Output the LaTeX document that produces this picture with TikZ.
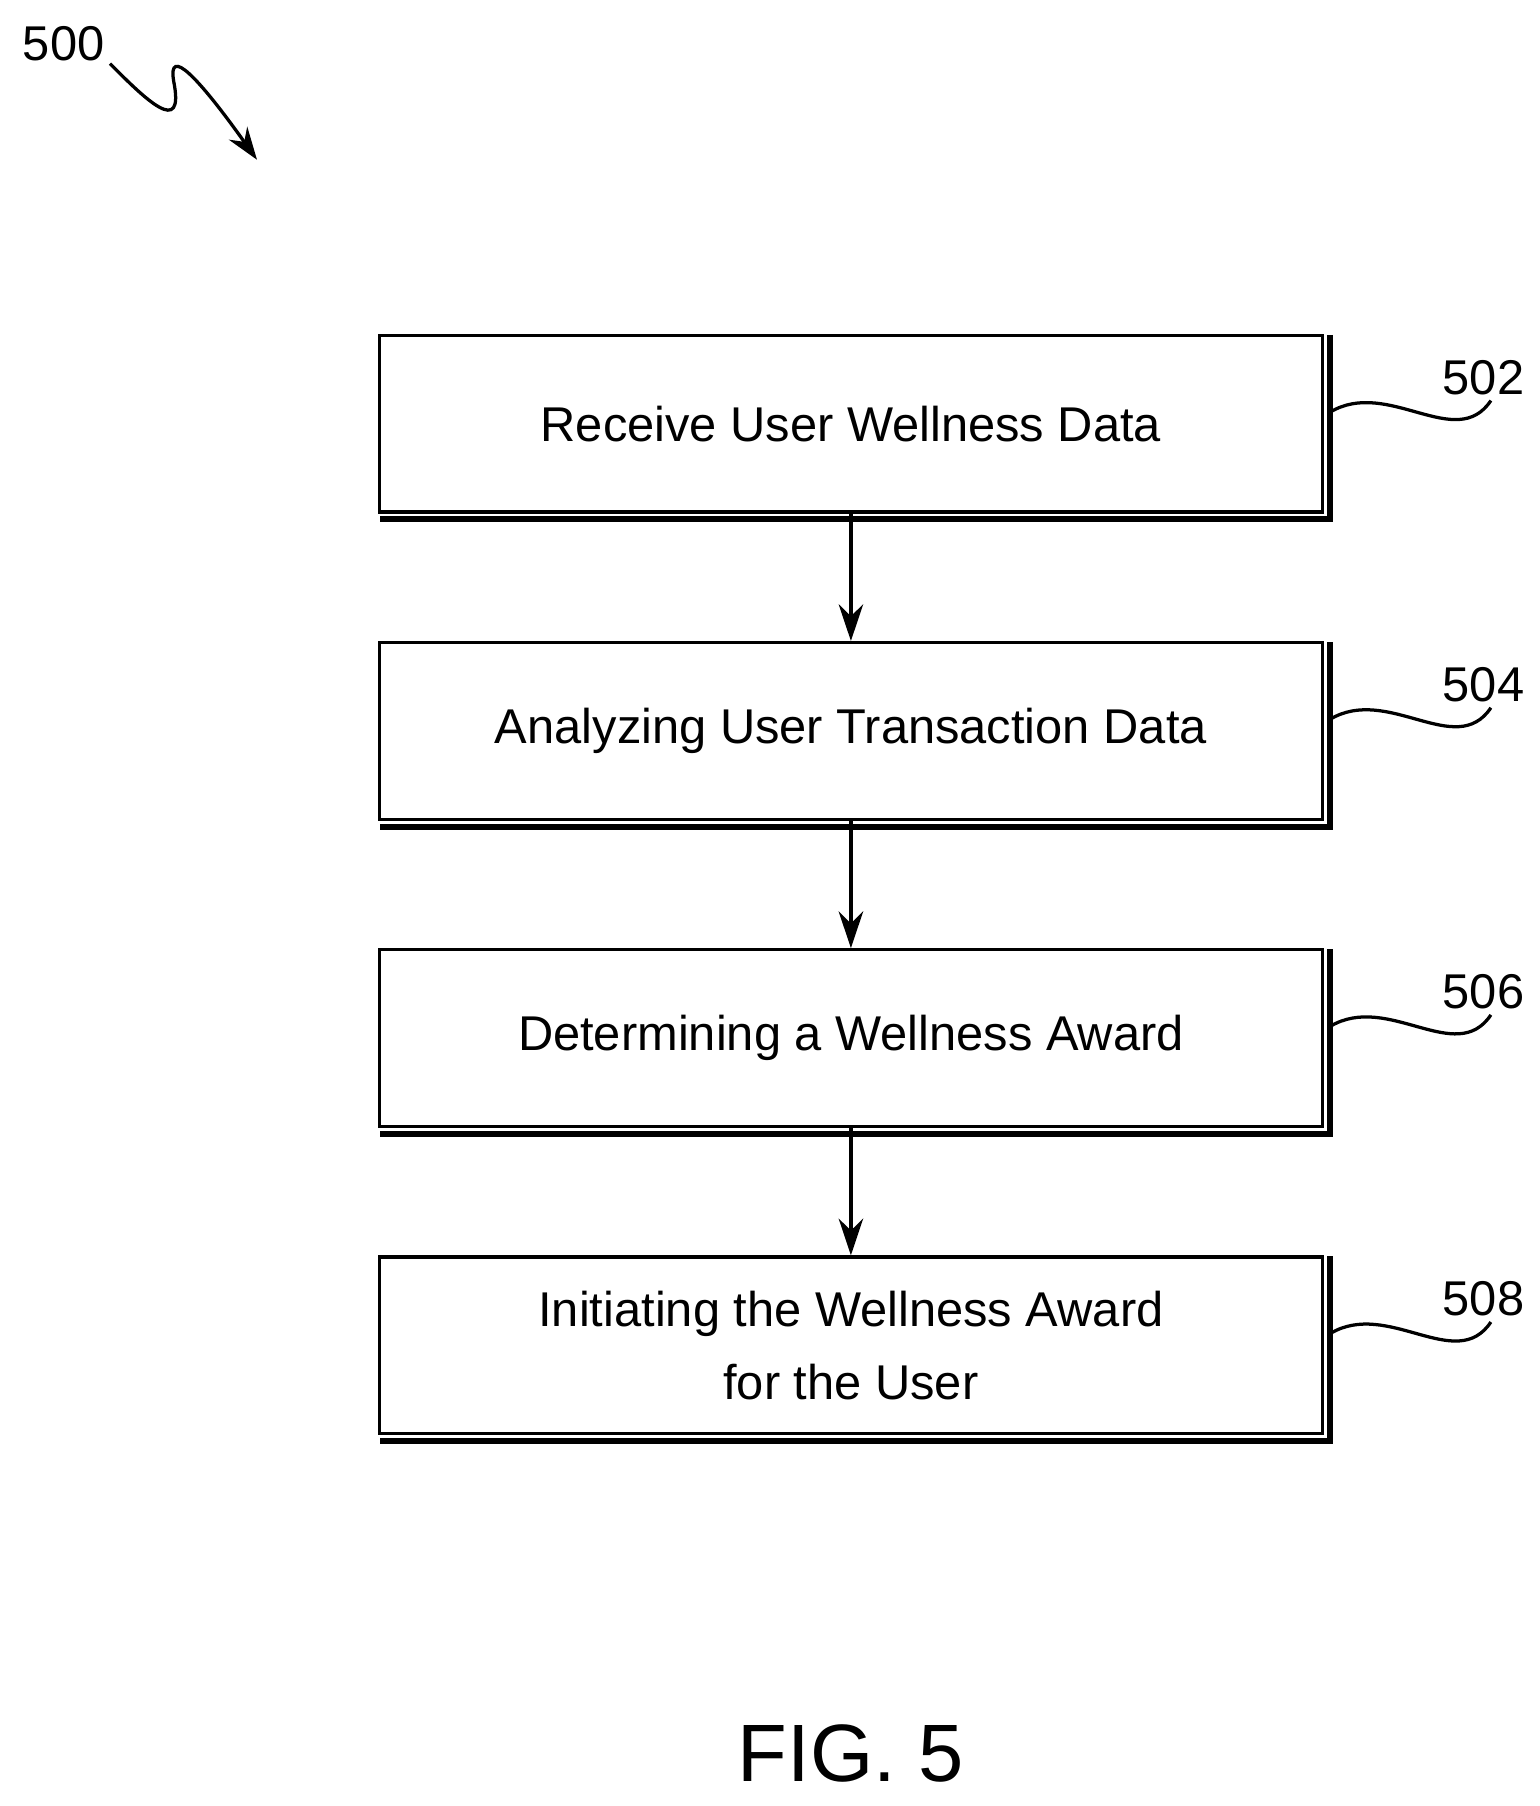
\documentclass[tikz,border=0pt]{standalone}
\usepackage{fontspec}
\setmainfont{Liberation Sans}
\usetikzlibrary{positioning,arrows.meta}
\begin{document}
\begin{tikzpicture}[
    stepbox/.style={draw,line width=1.6pt,fill=white,minimum width=16.3cm,minimum height=3.05cm,
      align=center,font=\fontsize{24}{36}\selectfont},
    ref/.style={font=\fontsize{24}{28}\selectfont},
    flow/.style={-{Stealth[length=18pt,width=12pt]},line width=2pt}]
    \useasboundingbox (0,0) rectangle (26.6,-31.2);
    % process steps
    \node[stepbox] (b502) at (14.7,-7.32) {Receive User Wellness Data};
    \node[stepbox,below=2.2cm of b502] (b504) {Analyzing User Transaction Data};
    \node[stepbox,below=2.2cm of b504] (b506) {Determining a Wellness Award};
    \node[stepbox,below=2.2cm of b506] (b508) {Initiating the Wellness Award\\for the User};
    % shadow edges
    \foreach \b in {b502,b504,b506,b508}
      \draw[line width=3pt] ([xshift=0.1cm,yshift=-0.02cm]\b.north east) -- ([xshift=0.1cm,yshift=-0.1cm]\b.south east) -- ([xshift=0.04cm,yshift=-0.1cm]\b.south west);
    % arrows
    \draw[flow] (b502) -- (b504);
    \draw[flow] (b504) -- (b506);
    \draw[flow] (b506) -- (b508);
    % reference numerals
    \foreach \b/\t in {b502/502,b504/504,b506/506,b508/508}{
      \node[ref] (n\t) at ([xshift=2.75cm,yshift=0.8cm]\b.east) {\t};
      \draw[line width=1.6pt] ([xshift=0.1cm,yshift=0.2cm]\b.east) .. controls +(1.0,0.6) and +(-0.6,-0.9) .. ([xshift=-0.7cm,yshift=-0.4cm]n\t.east);
    }
    \node[ref] (n500) at (1.1,-0.75) {500};
    \coordinate (tip500) at (4.44,-2.76);
    \draw[line width=1.6pt,-{Stealth[length=16pt,width=11pt]}] (1.9,-1.1) .. controls (2.5,-1.7) and (3.2,-2.4) .. (3.0,-1.4) .. controls (2.9,-0.8) and (3.4,-1.3) .. (tip500);
    % figure caption
    \node[font=\fontsize{40}{44}\selectfont] (fig) at (14.7,-30.3) {FIG. 5};
\end{tikzpicture}
\end{document}
